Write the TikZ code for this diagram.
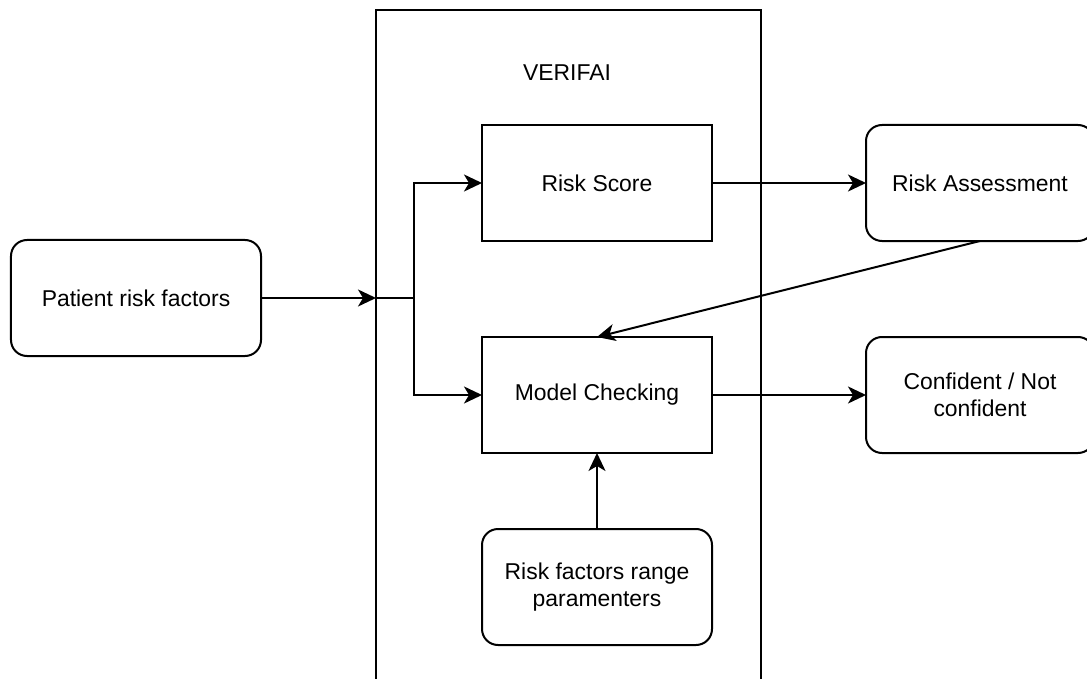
\documentclass[tikz,border=0pt]{standalone}
\usepackage{fontspec}
\setmainfont{Liberation Sans}
\usetikzlibrary{arrows.meta}
\begin{document}
\begin{tikzpicture}[x=1bp,y=-1bp,
  every node/.style={outer sep=0pt},
  lbl/.style={font=\fontsize{23}{27}\selectfont, align=center},
  box/.style={lbl, draw, line width=2bp, minimum width=230bp, minimum height=116bp, inner sep=0pt},
  rbox/.style={box, rounded corners=16bp},
  wire/.style={draw, line width=2bp},
  arr/.style={wire, -{Stealth[length=18bp,width=17bp,inset=5bp]}}]
\useasboundingbox (0,0) rectangle (1087,679);
\clip (0,0) rectangle (1087,679);

% VERIFAI container
\node[draw, line width=2bp, minimum width=385bp, minimum height=720bp, anchor=north west, inner sep=0pt] (frame) at (376,10) {};
\node[lbl] (title) at (567,73) {VERIFAI};

% inner blocks
\node[box] (score) at (597,183) {Risk Score};
\node[box] (mc) at (597,395) {Model Checking};
\node[rbox] (range) at (597,587) {Risk factors range\\paramenters};

% outer blocks
\node[rbox, minimum width=250bp] (patient) at (136,298) {Patient risk factors};
\node[rbox, minimum width=228bp] (ra) at (980,183) {Risk Assessment};
\node[rbox, minimum width=228bp] (conf) at (980,395) {Confident / Not\\confident};

% connectors
\coordinate (entry) at (frame.west |- patient.east);
\coordinate (split) at (414,298);
\path[arr] (patient.east) -- (entry);
\path[wire] (entry) -- (split);
\path[arr] (split) |- (score.west);
\path[arr] (split) |- (mc.west);
\path[arr] (score) -- (ra);
\path[arr] (mc) -- (conf);
\path[arr] (range) -- (mc);
\path[arr] (ra.south) -- (mc.north);
\end{tikzpicture}
\end{document}
